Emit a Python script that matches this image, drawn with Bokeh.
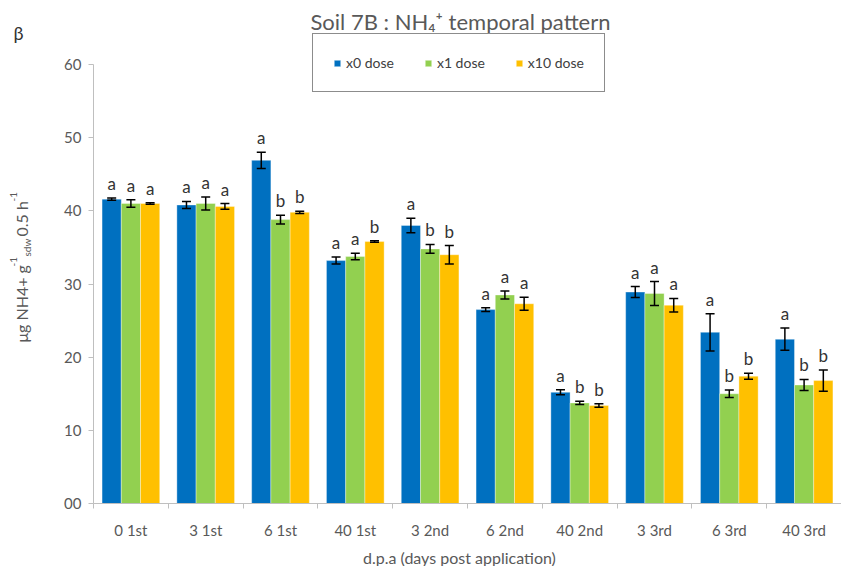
import numpy as np
from bokeh.plotting import figure
from bokeh.layouts import row, column
from bokeh.models import ColumnDataSource, Range1d, FixedTicker, Whisker, TeeHead, Label
from bokeh.core.properties import value
from bokeh.embed import file_html
from bokeh.resources import INLINE

categories = ["0 1st", "3 1st", "6 1st", "40 1st", "3 2nd", "6 2nd", "40 2nd", "3 3rd", "6 3rd", "40 3rd"]
series_names = ["x0 dose", "x1 dose", "x10 dose"]

x0_mean = [41.6, 40.8, 46.9, 33.2, 38.0, 26.5, 15.2, 28.9, 23.4, 22.45]
x0_err = [0.15, 0.48, 1.1, 0.48, 1.0, 0.27, 0.34, 0.75, 2.55, 1.52]
x1_mean = [41.0, 41.0, 38.8, 33.75, 34.8, 28.5, 13.75, 28.7, 15.0, 16.2]
x1_err = [0.5, 0.89, 0.6, 0.45, 0.6, 0.55, 0.23, 1.64, 0.52, 0.75]
x10_mean = [41.0, 40.6, 39.8, 35.8, 34.0, 27.3, 13.4, 27.1, 17.4, 16.8]
x10_err = [0.1, 0.4, 0.15, 0.1, 1.25, 0.9, 0.25, 0.93, 0.41, 1.46]

x0_letters = ["a", "a", "a", "a", "a", "a", "a", "a", "a", "a"]
x1_letters = ["a", "a", "b", "a", "b", "a", "b", "a", "b", "b"]
x10_letters = ["a", "a", "b", "b", "b", "a", "b", "a", "b", "b"]

y_ticks = [0, 10, 20, 30, 40, 50, 60]
y_tick_labels = ["00", "10", "20", "30", "40", "50", "60"]

colors = ["#0070C0", "#92D050", "#FFC000"]
FONT = "Lato"
GREY = "#595959"
AXIS_GREY = "#BFBFBF"

# ---- page layout (pixels) ----
W, H = 841, 566
LEFT_W = 50            # strip for the rotated y label and the panel letter
FRAME_LEFT = 93        # page x of the y axis
FRAME_BOTTOM = 503     # page y of the x axis
TOP_TICK_Y = 64        # page y of the "60" tick
MAIN_H = 543
y_max = y_ticks[-1]
y_top = y_max * FRAME_BOTTOM / (FRAME_BOTTOM - TOP_TICK_Y)

p = figure(width=W - LEFT_W, height=MAIN_H, x_range=Range1d(0, len(categories)), y_range=Range1d(0, y_top),
           output_backend="svg", toolbar_location=None, title=None,
           min_border_left=FRAME_LEFT - LEFT_W, min_border_right=0, min_border_top=0,
           min_border_bottom=MAIN_H - FRAME_BOTTOM)
p.outline_line_color = None
p.grid.visible = False
p.background_fill_color = "white"

centers = np.arange(len(categories)) + 0.5
bw = 0.257
offsets = [-bw, 0.0, bw]
all_means = [x0_mean, x1_mean, x10_mean]
all_errs = [x0_err, x1_err, x10_err]
all_letters = [x0_letters, x1_letters, x10_letters]

for name, col, off, m, e, let in zip(series_names, colors, offsets, all_means, all_errs, all_letters):
    m = np.array(m)
    e = np.array(e)
    src = ColumnDataSource(dict(x=centers + off, top=m, upper=m + e, lower=m - e, letter=let))
    p.vbar(x="x", top="top", bottom=0, width=bw, source=src, fill_color=col,
           line_color="white", line_alpha=0.35, line_width=1, legend_label=name)
    p.add_layout(Whisker(source=src, base="x", upper="upper", lower="lower", dimension="height",
                         level="overlay", line_color="black", line_width=1.5,
                         upper_head=TeeHead(size=9, line_color="black", line_width=1.5),
                         lower_head=TeeHead(size=9, line_color="black", line_width=1.5)))
    p.text(x="x", y="upper", text="letter", source=src, text_align="center", text_baseline="bottom",
           y_offset=-4, text_font=value(FONT), text_font_size="17px", text_color="#333333")

# y axis
p.yaxis.ticker = FixedTicker(ticks=y_ticks)
p.yaxis.bounds = (0, y_max)
p.yaxis.major_label_overrides = {t: l for t, l in zip(y_ticks, y_tick_labels)}
p.yaxis.axis_line_color = AXIS_GREY
p.yaxis.major_tick_line_color = AXIS_GREY
p.yaxis.major_tick_out = 5
p.yaxis.major_tick_in = 0
p.yaxis.minor_tick_line_color = None
p.yaxis.major_label_text_color = GREY
p.yaxis.major_label_text_font = FONT
p.yaxis.major_label_text_font_size = "15px"
p.yaxis.major_label_standoff = 7

# x axis
p.xaxis.ticker = FixedTicker(ticks=list(centers), minor_ticks=list(range(len(categories) + 1)))
p.xaxis.major_label_overrides = {float(c): lab for c, lab in zip(centers, categories)}
p.xaxis.axis_line_color = AXIS_GREY
p.xaxis.major_tick_line_color = None
p.xaxis.major_tick_out = 0
p.xaxis.major_tick_in = 0
p.xaxis.minor_tick_line_color = AXIS_GREY
p.xaxis.minor_tick_out = 5
p.xaxis.minor_tick_in = 0
p.xaxis.major_label_text_color = GREY
p.xaxis.major_label_text_font = FONT
p.xaxis.major_label_text_font_size = "15px"
p.xaxis.major_label_standoff = 12

# legend (inside the frame, above the 60 line)
lg = p.legend[0]
lg.orientation = "horizontal"
lg.location = (312 - FRAME_LEFT, FRAME_BOTTOM - 92)
lg.border_line_color = "#1a1a1a"
lg.border_line_width = 1.6
lg.background_fill_color = "white"
lg.background_fill_alpha = 1
lg.label_text_font = FONT
lg.label_text_font_size = "14px"
lg.label_text_color = "#404040"
lg.glyph_width = 8
lg.glyph_height = 8
lg.label_height = 13
lg.label_standoff = 5
lg.spacing = 30
lg.padding = 20
lg.margin = 0

# chart title (screen units relative to the frame)
p.add_layout(Label(x=460 - FRAME_LEFT, y=FRAME_BOTTOM - 21, x_units="screen", y_units="screen",
                   text="Soil 7B : NH₄⁺ temporal pattern",
                   text_align="center", text_baseline="middle", text_font=FONT, text_font_size="22px",
                   text_color=GREY))

# ---- left strip: panel letter + rotated y label (data coords = page pixels) ----
left = figure(width=LEFT_W, height=H, x_range=Range1d(0, LEFT_W), y_range=Range1d(H, 0),
              output_backend="svg", toolbar_location=None, title=None,
              x_axis_type=None, y_axis_type=None, min_border=0)
left.outline_line_color = None
left.grid.visible = False
left.add_layout(Label(x=13, y=32, text="β", text_align="left", text_baseline="middle",
                      text_font=FONT, text_font_size="18px", text_color="#333333"))
ylab_segments = [
    ("μg NH4+ g", "16px", 21, 342),
    ("-1", "10px", 13, 266),
    ("sdw", "10px", 26, 256),
    ("0.5 h", "16px", 21, 236),
    ("-1", "10px", 13, 201),
]
for txt, size, x, y in ylab_segments:
    left.add_layout(Label(x=x, y=y, text=txt, angle=np.pi / 2, text_align="left", text_baseline="middle",
                          text_font=FONT, text_font_size=size, text_color=GREY))

# ---- bottom strip: x axis title ----
bottom = figure(width=W - LEFT_W, height=H - MAIN_H, x_range=Range1d(LEFT_W, W), y_range=Range1d(H, MAIN_H),
                output_backend="svg", toolbar_location=None, title=None,
                x_axis_type=None, y_axis_type=None, min_border=0)
bottom.outline_line_color = None
bottom.grid.visible = False
bottom.add_layout(Label(x=437, y=557, text="d.p.a (days post application)", text_align="center",
                        text_baseline="middle", text_font=FONT, text_font_size="16px", text_color=GREY))

layout = row(left, column(p, bottom))
open("out.html", "w").write(file_html(layout, INLINE))
